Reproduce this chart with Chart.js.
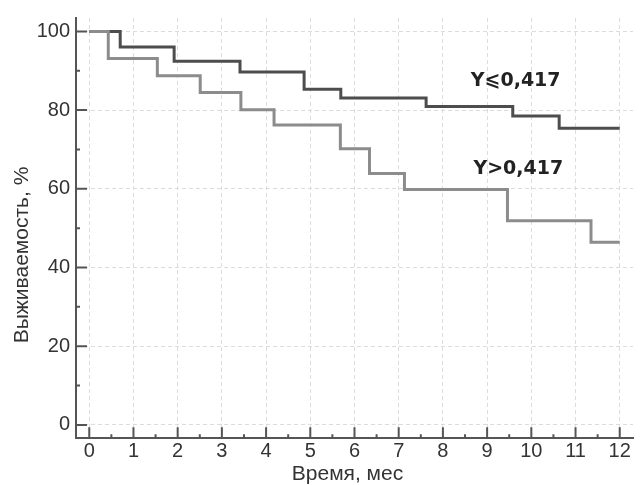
<!DOCTYPE html>
<html>
<head>
<meta charset="utf-8">
<script src="https://cdn.jsdelivr.net/npm/chart.js@4"></script>
<style>
  html, body { margin: 0; padding: 0; background: #fff; }
  #wrap { width: 641px; height: 485px; }
</style>
</head>
<body>
<div id="wrap"><canvas id="kmChart"></canvas></div>
<script>
// Kaplan-Meier curves, values
const lowTimes = [0, 0.70, 1.92, 3.41, 4.86, 5.69, 7.62, 9.58, 10.63, 12];
const lowSurvival = [100, 96.0, 92.4, 89.7, 85.3, 83.1, 80.9, 78.5, 75.4, 75.4];

const highTimes = [0, 0.43, 1.54, 2.51, 3.43, 4.18, 5.68, 6.34, 7.13, 9.46, 11.35, 12];
const highSurvival = [100, 93.1, 88.7, 84.5, 80.1, 76.2, 70.2, 63.9, 59.8, 51.9, 46.4, 46.4];

const groupNames = ["Y⩽0,417", "Y>0,417"];
const xTicks = [0, 1, 2, 3, 4, 5, 6, 7, 8, 9, 10, 11, 12];
const yTicks = [0, 20, 40, 60, 80, 100];

const axisColor = "#555";
const textColor = "#333";

function toPoints(times, values) {
  return times.map((t, i) => ({ x: t, y: values[i] }));
}

// inward tick marks, curve labels and axis titles
const decorations = {
  id: "decorations",
  afterDatasetsDraw(chart) {
    const { ctx, chartArea, scales } = chart;
    const xs = scales.x, ys = scales.y;
    ctx.save();
    ctx.strokeStyle = axisColor;
    ctx.lineWidth = 2;
    ctx.beginPath();
    xTicks.forEach((t) => {
      const px = xs.getPixelForValue(t);
      ctx.moveTo(px, chartArea.bottom);
      ctx.lineTo(px, chartArea.bottom - 11);
      if (t < 12) {
        const mx = xs.getPixelForValue(t + 0.5);
        ctx.moveTo(mx, chartArea.bottom);
        ctx.lineTo(mx, chartArea.bottom - 4);
      }
    });
    yTicks.forEach((v) => {
      const py = ys.getPixelForValue(v);
      ctx.moveTo(chartArea.left, py);
      ctx.lineTo(chartArea.left + 11, py);
      if (v < 100) {
        const my = ys.getPixelForValue(v + 10);
        ctx.moveTo(chartArea.left, my);
        ctx.lineTo(chartArea.left + 4, my);
      }
    });
    ctx.stroke();

    // group labels
    ctx.fillStyle = "#222";
    ctx.font = "bold 19px 'DejaVu Sans'";
    ctx.textBaseline = "middle";
    ctx.textAlign = "left";
    ctx.fillText(groupNames[0], xs.getPixelForValue(8.63), ys.getPixelForValue(87.4));
    ctx.fillText(groupNames[1], xs.getPixelForValue(8.69), ys.getPixelForValue(64.9));

    // axis titles
    ctx.fillStyle = textColor;
    ctx.font = "21px 'Liberation Sans'";
    ctx.textAlign = "center";
    ctx.textBaseline = "alphabetic";
    ctx.fillText("Время, мес", (chartArea.left + chartArea.right) / 2 - 7, 480);
    ctx.translate(28, 255);
    ctx.rotate(-Math.PI / 2);
    ctx.fillText("Выживаемость, %", 0, 0);
    ctx.restore();
  }
};

new Chart(document.getElementById("kmChart"), {
  type: "line",
  data: {
    datasets: [
      {
        label: groupNames[1],
        data: toPoints(highTimes, highSurvival),
        borderColor: "#8c8c8c",
        borderWidth: 3,
        stepped: "before",
        pointRadius: 0,
        fill: false
      },
      {
        label: groupNames[0],
        data: toPoints(lowTimes, lowSurvival),
        borderColor: "#4d4d4d",
        borderWidth: 3,
        stepped: "before",
        pointRadius: 0,
        fill: false
      }
    ]
  },
  options: {
    responsive: true,
    maintainAspectRatio: false,
    animation: false,
    layout: { padding: { top: 11, right: 8, left: 0, bottom: 0 } },
    plugins: {
      legend: { display: false },
      tooltip: { enabled: false }
    },
    scales: {
      x: {
        type: "linear",
        min: -0.3,
        max: 12.3,
        afterFit: (scale) => { scale.height = 46.7; },
        ticks: {
          stepSize: 1,
          includeBounds: false,
          padding: 1,
          color: textColor,
          font: { family: "'Liberation Sans'", size: 20 }
        },
        grid: { color: "#dcdcdc", lineWidth: 1, drawTicks: false },
        border: { color: axisColor, width: 2, dash: [4, 3] }
      },
      y: {
        min: -3.4,
        max: 103.4,
        afterFit: (scale) => { scale.width = 76; },
        ticks: {
          stepSize: 20,
          includeBounds: false,
          padding: 6,
          color: textColor,
          font: { family: "'Liberation Sans'", size: 20 }
        },
        grid: { color: "#dcdcdc", lineWidth: 1, drawTicks: false },
        border: { color: axisColor, width: 2, dash: [4, 3] }
      }
    }
  },
  plugins: [decorations]
});
</script>
</body>
</html>
